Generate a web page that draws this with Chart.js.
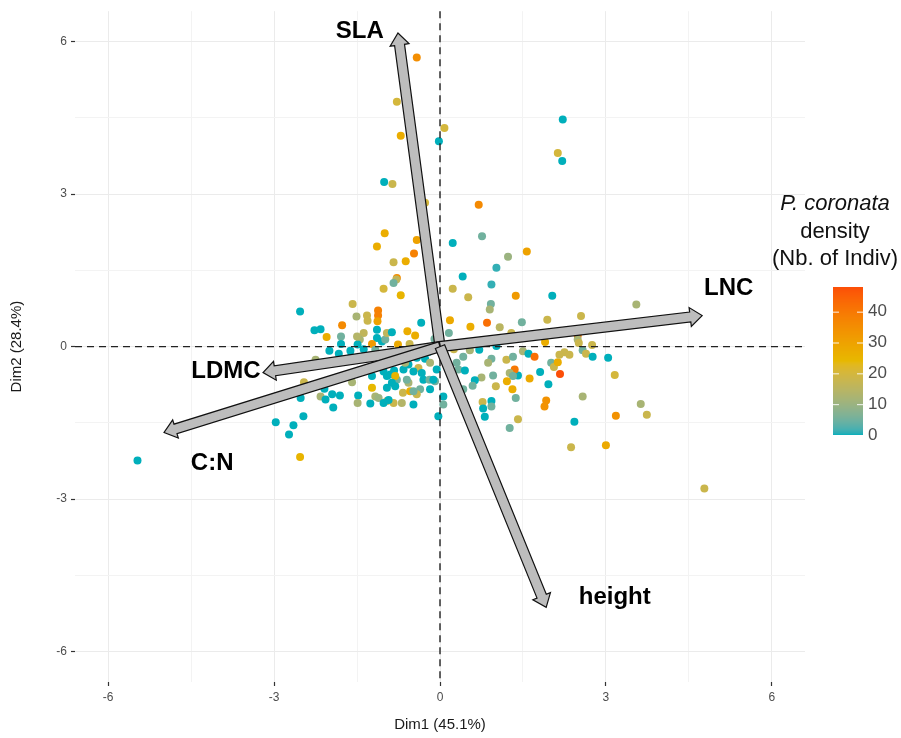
<!DOCTYPE html>
<html><head><meta charset="utf-8">
<script src="https://cdn.jsdelivr.net/npm/chart.js@4.4.1/dist/chart.umd.min.js"></script>
<style>html,body{margin:0;padding:0;background:#fff}#wrap{width:901px;height:738px}</style>
</head><body><div id="wrap"><canvas id="c" width="901" height="738"></canvas></div>
<script>
// ---- individuals (PCA coordinates) ----
const dim1 = [-0.42,-0.78,0.08,-0.71,-0.02,-1.01,-0.86,2.22,2.13,2.21,0.70,0.76,0.23,1.23,1.57,1.02,0.41,0.93,0.23,0.51,1.37,2.03,-0.27,-1.00,-1.14,-0.47,-0.62,-0.84,-0.78,-0.79,-0.84,-1.02,-0.71,-0.42,
-2.53,-1.58,-1.51,-1.32,-1.31,-1.12,-1.12,-1.13,-1.77,-2.27,-2.16,-2.05,-1.79,-0.34,0.18,0.55,0.92,0.90,0.85,1.08,1.48,1.94,0.16,-0.59,-0.45,-1.38,-1.45,-1.14,-1.14,-1.05,-0.99,-0.96,-0.87,-1.23,-0.76,-1.49,-1.38,-1.62,-1.83,-2.00,-1.79,
-2.25,-2.46,-2.52,-2.16,-2.09,-1.95,-1.81,-1.93,-2.47,-2.97,-2.65,-2.73,-2.53,-5.47,-1.48,-1.49,-1.23,-1.23,-1.26,-1.17,-1.11,-0.96,-0.90,-0.83,-0.78,-0.96,-1.02,-0.84,-0.69,-0.48,-0.67,-0.54,-0.57,-0.66,-0.57,-0.42,-0.39,-0.33,-0.30,-0.19,-0.18,-0.36,-0.42,-0.48,0.06,-0.03,
-1.61,-0.72,-0.84,-2.07,-1.59,-1.26,-0.93,-0.60,-0.27,-0.09,-0.81,-0.96,-1.08,-1.02,-1.29,-1.17,-0.63,-0.18,-1.50,
2.55,2.49,2.49,2.51,1.90,2.75,1.29,0.71,0.54,1.02,0.42,0.30,0.33,0.45,0.93,0.87,1.20,1.32,1.50,1.60,1.71,1.81,2.01,2.06,2.13,2.17,2.25,2.34,2.16,2.58,2.64,2.76,3.04,3.16,2.58,1.92,1.89,1.96,1.62,1.41,1.35,1.26,1.32,1.21,1.31,1.37,0.96,1.01,0.75,0.63,0.59,0.42,0.77,0.93,0.93,0.78,0.81,1.41,1.26,2.43,3.18,2.37,3.00,3.55,3.63,3.74,4.78,
-0.12,-0.06,0.09,-0.81,-0.48,0.06,-0.87,-0.20,-0.10,0.25,-0.55];
const dim2 = [5.69,4.82,4.30,4.15,4.04,3.24,3.20,4.47,3.81,3.65,2.79,2.17,2.04,1.77,1.87,1.55,1.38,1.22,1.14,0.97,1.00,1.00,2.83,2.23,1.97,1.83,1.68,1.66,1.35,1.32,1.25,1.14,1.01,2.10,
0.69,0.84,0.59,0.61,0.51,0.71,0.61,0.50,0.42,0.32,0.34,0.19,0.20,0.47,0.52,0.39,0.84,0.73,0.47,0.38,0.48,0.53,0.27,0.30,0.22,0.27,0.14,0.33,0.17,0.10,0.14,0.27,0.28,0.05,0.04,0.04,-0.05,-0.08,-0.14,-0.08,0.05,
-0.26,-0.70,-1.01,-0.98,-0.83,-0.94,-0.96,-1.20,-1.37,-1.49,-1.55,-1.73,-2.17,-2.24,-0.96,-1.11,-0.81,-0.58,-0.45,-0.98,-1.01,-0.81,-0.55,-0.47,-0.65,-1.07,-1.11,-1.11,-1.11,-1.14,-0.91,-0.88,-0.71,-0.45,-0.35,-0.22,-0.42,-0.52,-0.65,-0.65,-0.84,-0.84,-0.94,-0.88,-0.98,-1.37,
-0.20,-0.16,-0.26,-1.04,-0.70,-1.12,-1.05,-0.65,-0.24,-0.68,-0.58,-0.58,-0.32,-0.49,-0.19,-0.06,-0.32,-0.32,0.20,
0.60,0.22,0.14,0.07,0.09,0.03,0.27,-0.06,-0.07,0.01,-0.20,-0.32,-0.45,-0.47,-0.24,-0.32,-0.26,-0.20,-0.09,-0.14,-0.20,-0.50,-0.32,-0.40,-0.31,-0.54,-0.11,-0.16,-0.16,-0.07,-0.14,-0.20,-0.22,-0.56,-0.98,-1.06,-1.18,-0.74,-0.63,-0.57,-0.45,-0.52,-0.58,-0.68,-0.84,-1.01,-0.57,-0.78,-0.61,-0.66,-0.77,-0.84,-1.09,-1.07,-1.18,-1.22,-1.38,-1.43,-1.60,-1.48,-1.36,-1.98,-1.94,0.83,-1.13,-1.34,-2.79,
-0.65,-0.45,-0.16,-0.78,-0.49,-1.14,-0.71,-0.10,0.15,-0.05,0.05];
const density = [35,20,20,27,0,0,18,0,20,0,36,5,0,10,30,1,0,1,18,18,32,0,20,27,27,38,27,18,35,16,5,20,25,30,
0,18,12,18,18,38,38,30,36,0,0,27,5,0,28,27,5,12,42,15,5,18,5,27,27,16,12,0,0,0,5,16,0,32,28,0,0,0,0,0,0,
12,18,0,12,0,0,0,0,0,0,0,0,25,0,0,12,24,0,0,12,10,0,0,0,5,14,0,18,14,0,18,27,12,0,0,0,18,0,0,5,0,5,18,5,0,0,
0,12,0,0,12,0,0,5,0,5,25,0,0,0,0,5,12,12,14,
18,40,12,18,27,18,18,0,12,0,5,5,5,0,5,12,18,5,12,0,42,0,5,18,27,48,18,18,18,5,18,0,0,20,12,34,34,0,28,0,40,12,5,27,27,5,5,18,12,0,5,5,18,0,5,0,0,18,5,0,34,18,28,12,12,18,18,
0,0,12,0,0,5,0,0,5,18,18];

// ---- variables (arrows) ----
const varNames = ['SLA','LNC','LDMC','C:N','height'];
const varDim1 = [-0.76, 4.74, -3.20, -4.99, 1.92];
const varDim2 = [6.17, 0.61, -0.51, -1.69, -5.13];
const labelDim1 = [-1.45, 5.22, -3.87, -4.12, 3.16];
const labelDim2 = [6.21, 1.14, -0.49, -2.30, -4.93];

// ---- axes / legend ----
const axisTicks = [-6, -3, 0, 3, 6];
const gridTicks = [-6, -4.5, -3, -1.5, 0, 1.5, 3, 4.5, 6];
const axisMin = -6.6, axisMax = 6.6;
const legendTicks = [0, 10, 20, 30, 40];
const densityMax = 48;
const paletteStops = ['#00AFBB', '#E7B800', '#FC4E07'];

// ---- Lab colour interpolation (as ggplot's gradientn) ----
function hex2rgb(h){return [parseInt(h.slice(1,3),16),parseInt(h.slice(3,5),16),parseInt(h.slice(5,7),16)];}
function s2l(c){c/=255;return c<=0.04045?c/12.92:Math.pow((c+0.055)/1.055,2.4);}
function l2s(c){c=c<=0.0031308?12.92*c:1.055*Math.pow(Math.max(c,0),1/2.4)-0.055;return Math.round(Math.max(0,Math.min(1,c))*255);}
function rgb2lab(rgb){const [r,g,b]=rgb.map(s2l);
 const X=(0.4124*r+0.3576*g+0.1805*b)/0.95047,Y=0.2126*r+0.7152*g+0.0722*b,Z=(0.0193*r+0.1192*g+0.9505*b)/1.08883;
 const f=t=>t>0.008856?Math.cbrt(t):7.787*t+16/116;const fx=f(X),fy=f(Y),fz=f(Z);
 return [116*fy-16,500*(fx-fy),200*(fy-fz)];}
function lab2rgb(lab){const [L,a,bb]=lab;const fy=(L+16)/116,fx=fy+a/500,fz=fy-bb/200;
 const fi=t=>t>0.206893?t*t*t:(t-16/116)/7.787;
 const X=fi(fx)*0.95047,Y=fi(fy),Z=fi(fz)*1.08883;
 return [l2s(3.2406*X-1.5372*Y-0.4986*Z),l2s(-0.9689*X+1.8758*Y+0.0415*Z),l2s(0.0557*X-0.2040*Y+1.0570*Z)];}
const stopLabs = paletteStops.map(h=>rgb2lab(hex2rgb(h)));
function densityColor(v){
 let t=Math.max(0,Math.min(1,v/densityMax))*(stopLabs.length-1);
 const i=Math.min(Math.floor(t),stopLabs.length-2);const f=t-i;const a=stopLabs[i],b=stopLabs[i+1];
 const c=lab2rgb([0,1,2].map(k=>a[k]+(b[k]-a[k])*f));return 'rgb('+c[0]+','+c[1]+','+c[2]+')';}

const FONT = "'Liberation Sans', Arial, Helvetica, sans-serif";
const points = dim1.map((x,i)=>({x:x,y:dim2[i]}));
const colors = density.map(densityColor);
const isMajor = v => axisTicks.indexOf(v) >= 0;

const overlay = {
 id:'overlay',
 afterDatasetsDraw(chart){
  const ctx=chart.ctx, xs=chart.scales.x, ys=chart.scales.y, ca=chart.chartArea;
  const x0=xs.getPixelForValue(0), y0=ys.getPixelForValue(0);
  ctx.save();
  ctx.strokeStyle='#222'; ctx.lineWidth=1.4; ctx.setLineDash([7,5]);
  ctx.beginPath(); ctx.moveTo(x0,ca.top); ctx.lineTo(x0,ca.bottom); ctx.stroke();
  ctx.beginPath(); ctx.moveTo(ca.left,y0); ctx.lineTo(ca.right,y0); ctx.stroke();
  ctx.setLineDash([]);
  // arrows
  const w=5, hw=9.5, hl=12;
  varNames.forEach((n,i)=>{
   const tx=xs.getPixelForValue(varDim1[i]), ty=ys.getPixelForValue(varDim2[i]);
   const dx=tx-x0, dy=ty-y0, L=Math.hypot(dx,dy), ux=dx/L, uy=dy/L, nx=-uy, ny=ux;
   const bx=tx-ux*hl, by=ty-uy*hl;
   ctx.beginPath();
   ctx.moveTo(x0+nx*w,y0+ny*w);
   ctx.lineTo(bx+nx*w,by+ny*w);
   ctx.lineTo(bx+nx*hw,by+ny*hw);
   ctx.lineTo(tx,ty);
   ctx.lineTo(bx-nx*hw,by-ny*hw);
   ctx.lineTo(bx-nx*w,by-ny*w);
   ctx.lineTo(x0-nx*w,y0-ny*w);
   ctx.closePath();
   ctx.fillStyle='#bdbdbd'; ctx.fill();
   ctx.strokeStyle='#111'; ctx.lineWidth=1.2; ctx.lineJoin='miter'; ctx.stroke();
  });
  // labels
  ctx.fillStyle='#000'; ctx.font='bold 24px '+FONT; ctx.textAlign='center'; ctx.textBaseline='middle';
  varNames.forEach((n,i)=>{ ctx.fillText(n, xs.getPixelForValue(labelDim1[i]), ys.getPixelForValue(labelDim2[i])); });
  ctx.restore();
 },
 afterDraw(chart){
  const ctx=chart.ctx;
  ctx.save();
  ctx.fillStyle='#111'; ctx.textAlign='center'; ctx.textBaseline='middle';
  ctx.font='italic 22px '+FONT; ctx.fillText('P. coronata',835,204);
  ctx.font='22px '+FONT; ctx.fillText('density',835,232); ctx.fillText('(Nb. of Indiv)',835,259);
  const bx=833, bw=30, top=287, bot=435;
  for(let py=top; py<bot; py++){
   const v=(bot-py-0.5)/(bot-top)*densityMax;
   ctx.fillStyle=densityColor(v); ctx.fillRect(bx,py,bw,1);
  }
  ctx.strokeStyle='rgba(255,255,255,0.9)'; ctx.lineWidth=1;
  ctx.fillStyle='#4d4d4d'; ctx.font='17px '+FONT; ctx.textAlign='left';
  legendTicks.forEach(t=>{
   const py=bot-(t/densityMax)*(bot-top);
   if(t>0){
    ctx.beginPath(); ctx.moveTo(bx,py+0.5); ctx.lineTo(bx+6,py+0.5); ctx.moveTo(bx+bw-6,py+0.5); ctx.lineTo(bx+bw,py+0.5); ctx.stroke();
   }
   ctx.fillText(String(t),868,py);
  });
  ctx.restore();
 }
};

function axisOpts(title, fitFn, titlePad){
 return {
  type:'linear', min:axisMin, max:axisMax,
  afterBuildTicks: s=>{ s.ticks = gridTicks.map(v=>({value:v})); },
  afterFit: fitFn,
  ticks:{ callback:v=>isMajor(v)?String(v):'', font:{family:FONT,size:12}, color:'#4d4d4d', padding:4, maxRotation:0, autoSkip:false },
  grid:{
   color: c=>(c.tick && isMajor(c.tick.value))?'#ebebeb':'#f3f3f3',
   lineWidth:1, drawTicks:true, tickLength:4,
   tickColor: c=>(c.tick && isMajor(c.tick.value))?'#333333':'rgba(0,0,0,0)', tickWidth:1.2
  },
  border:{display:false},
  title:{display:true,text:title,font:{family:FONT,size:15},color:'#1a1a1a',padding:titlePad}
 };
}

new Chart(document.getElementById('c').getContext('2d'), {
 type:'scatter',
 data:{datasets:[{data:points, backgroundColor:colors, borderWidth:0, pointRadius:4, pointHoverRadius:4}]},
 options:{
  responsive:false, animation:false, devicePixelRatio:1, events:[],
  layout:{padding:{left:0,right:96,top:10,bottom:4}},
  plugins:{legend:{display:false},tooltip:{enabled:false}},
  scales:{
   x: axisOpts('Dim1 (45.1%)', s=>{s.height=52;}, {top:3,bottom:0}),
   y: axisOpts('Dim2 (28.4%)', s=>{s.width=75;}, {top:8,bottom:0})
  }
 },
 plugins:[overlay]
});
</script></body></html>
